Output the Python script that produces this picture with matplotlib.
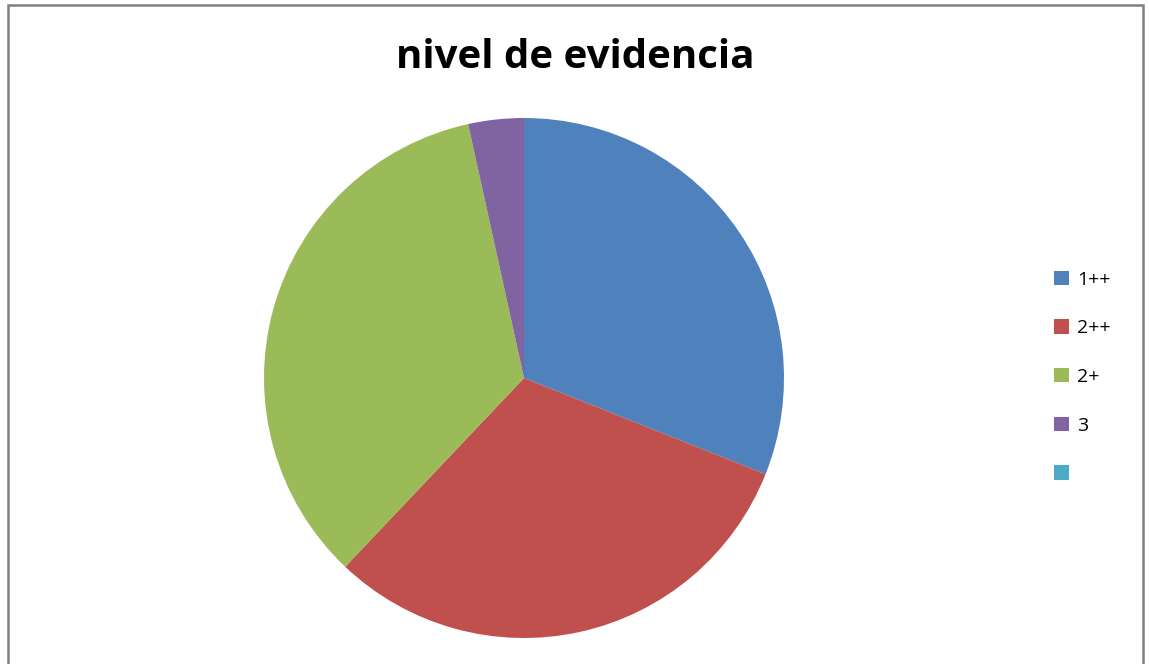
import matplotlib.pyplot as plt
from matplotlib.patches import Rectangle, Patch

# nivel de evidencia - conteo por categoria
categorias = ["1++", "2++", "2+", "3", ""]
valores = [9, 9, 10, 1, 0]
colores = ["#4F81BD", "#C0504D", "#9BBB59", "#8064A2", "#4BACC6"]

W, H = 1149, 664
fig = plt.figure(figsize=(W / 100, H / 100), dpi=100)

# pie axes: centre (524, 378), radius 260 px
cx, cy, r = 524, 378, 260
ax = fig.add_axes([(cx - r) / W, (H - cy - r) / H, 2 * r / W, 2 * r / H])
ax.pie(valores, colors=colores, startangle=90, counterclock=False,
       wedgeprops=dict(linewidth=0))
ax.set_aspect("auto")
ax.set_xlim(-1, 1)
ax.set_ylim(-1, 1)

fig.text(575 / W, 1 - 57 / H, "nivel de evidencia", ha="center", va="center",
         fontsize=29, fontweight="bold", family="Open Sans")

handles = [Patch(facecolor=c, edgecolor="none") for c in colores]
fig.legend(handles, categorias, loc="center left",
           bbox_to_anchor=(1054 / W, 1 - 377 / H), frameon=False,
           borderpad=0, borderaxespad=0,
           handlelength=0.77, handleheight=0.77,
           labelspacing=1.57, handletextpad=0.4,
           prop={"family": "Open Sans", "size": 14})

# outer chart border (bottom edge runs off the image)
fig.patches.append(Rectangle((8 / W, -0.05), (1143 - 8) / W, 1.05 - 5 / H,
                             transform=fig.transFigure, fill=False,
                             edgecolor="#808080", linewidth=1.8))

fig.savefig("out.png", dpi=100)
